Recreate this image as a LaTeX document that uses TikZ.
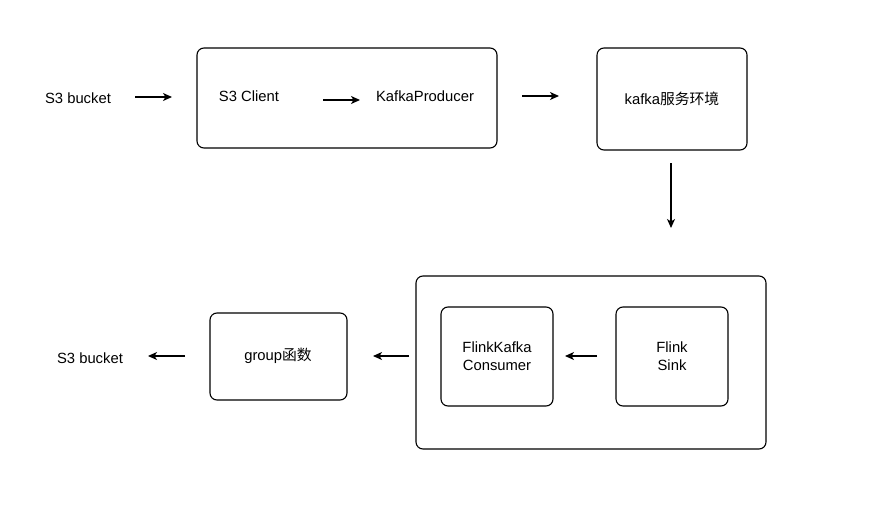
\documentclass[tikz,border=0pt]{standalone}
\usepackage{fontspec}
\setmainfont{Liberation Sans}
\newfontfamily\cjk{Noto Sans CJK SC}
\usetikzlibrary{arrows.meta}
\begin{document}
\begin{tikzpicture}[x=1pt,y=-1pt,
  box/.style={draw=black,line width=1.1pt,rounded corners=7pt},
  lbl/.style={font=\fontsize{14.8}{17.5}\selectfont,align=center,inner sep=0pt},
  arr/.style={line width=1.3pt,-{Stealth[length=9pt,width=8pt,inset=2.5pt]}}]
\useasboundingbox (0,0) rectangle (890,505);
% top row
\node[lbl] (src) at (78,98) {S3 bucket};
\draw[box] (197,48) rectangle (497,148);
\node[lbl] (client) at (249,96) {S3 Client};
\node[lbl] (prod) at (425,96) {KafkaProducer};
\draw[box] (597,48) rectangle (747,150);
\node[lbl] (kafka) at (672,99) {kafka{\cjk 服务环境}};
% bottom row
\draw[box] (416,276) rectangle (766,449);
\draw[box] (441,307) rectangle (553,406);
\node[lbl] (cons) at (497,356) {FlinkKafka\\Consumer};
\draw[box] (616,307) rectangle (728,406);
\node[lbl] (sink) at (672,356) {Flink\\Sink};
\draw[box] (210,313) rectangle (347,400);
\node[lbl] (grp) at (278,356) {group{\cjk 函数}};
\node[lbl] (dst) at (90,358) {S3 bucket};
% arrow ends
\coordinate (a1s) at (135,97); \coordinate (a1e) at (172,97);
\coordinate (a2s) at (323,100); \coordinate (a2e) at (360,100);
\coordinate (a3s) at (522,96); \coordinate (a3e) at (559,96);
\coordinate (a4s) at (671,163); \coordinate (a4e) at (671,228);
\coordinate (a5s) at (597,356); \coordinate (a5e) at (565,356);
\coordinate (a6s) at (409,356); \coordinate (a6e) at (373,356);
\coordinate (a7s) at (185,356); \coordinate (a7e) at (148,356);
\draw[arr] (a1s) -- (a1e);
\draw[arr] (a2s) -- (a2e);
\draw[arr] (a3s) -- (a3e);
\draw[arr] (a4s) -- (a4e);
\draw[arr] (a5s) -- (a5e);
\draw[arr] (a6s) -- (a6e);
\draw[arr] (a7s) -- (a7e);
\end{tikzpicture}
\end{document}
